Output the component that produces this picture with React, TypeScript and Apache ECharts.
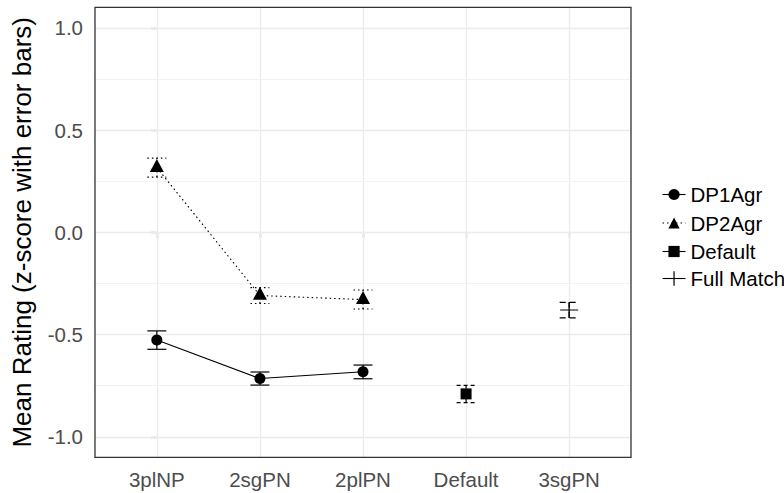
import { useEffect, useRef } from 'react';
import * as echarts from 'echarts';

const categories = ['3plNP', '2sgPN', '2plPN', 'Default', '3sgPN'];

const dp1Cats = ['3plNP', '2sgPN', '2plPN'];
const dp1Means = [-0.527, -0.715, -0.682];
const dp1Low = [-0.572, -0.747, -0.716];
const dp1High = [-0.482, -0.683, -0.649];

const dp2Cats = ['3plNP', '2sgPN', '2plPN'];
const dp2Means = [0.316, -0.309, -0.329];
const dp2Low = [0.27, -0.348, -0.375];
const dp2High = [0.363, -0.27, -0.282];

const defCats = ['Default'];
const defMeans = [-0.79];
const defLow = [-0.833];
const defHigh = [-0.748];

const fmCats = ['3sgPN'];
const fmMeans = [-0.38];
const fmLow = [-0.418];
const fmHigh = [-0.343];

const yTicks = [-1, -0.5, 0, 0.5, 1];
const yMinor = [-0.75, -0.25, 0.25, 0.75];

const FONT = '"Liberation Sans", Arial, sans-serif';
const G = { left: 95, top: 7.3, width: 536, height: 450 };

const idx = (c: string) => categories.indexOf(c);

const DOT = [1.5, 3];
const DASH = [4, 3];
const LONGDASH = [6, 4];

function errorSeries(name: string, cats: string[], lows: number[], highs: number[], dash: number[] | null) {
  return {
    type: 'custom',
    name,
    z: 3,
    silent: true,
    data: cats.map((c, i) => [idx(c), lows[i], highs[i]]),
    encode: { x: 0, y: [1, 2] },
    renderItem: (params: any, api: any) => {
      const x = api.value(0);
      const lo = api.value(1);
      const hi = api.value(2);
      const pLo = api.coord([x, lo]);
      const pHi = api.coord([x, hi]);
      const half = api.size([0.092, 0])[0];
      const style: any = { stroke: '#000', lineWidth: 1.2, fill: 'none' };
      if (dash) style.lineDash = dash;
      return {
        type: 'group',
        children: [
          { type: 'line', shape: { x1: pLo[0], y1: pLo[1], x2: pHi[0], y2: pHi[1] }, style },
          { type: 'line', shape: { x1: pLo[0] - half, y1: pLo[1], x2: pLo[0] + half, y2: pLo[1] }, style },
          { type: 'line', shape: { x1: pHi[0] - half, y1: pHi[1], x2: pHi[0] + half, y2: pHi[1] }, style },
        ],
      };
    },
  };
}

function legendFor(name: string, top: number, itemHeight: number, extra: any = {}) {
  return {
    data: [name],
    orient: 'vertical',
    left: 662,
    top,
    padding: 0,
    itemGap: 0,
    itemWidth: 23,
    itemHeight,
    selectedMode: false,
    textStyle: { fontSize: 20.5, color: '#000', fontFamily: FONT },
    ...extra,
  };
}

const gridLines = [
  ...categories.map((_, i) => ({ xAxis: i, lineStyle: { color: '#EBEBEB', width: 1.3, type: 'solid' } })),
  ...yTicks.map((v) => ({ yAxis: v, lineStyle: { color: '#EBEBEB', width: 1.3, type: 'solid' } })),
  ...yMinor.map((v) => ({ yAxis: v, lineStyle: { color: '#F0F0F0', width: 0.9, type: 'solid' } })),
];

export default function App() {
  const ref = useRef<HTMLDivElement>(null);
  useEffect(() => {
    const chart = echarts.init(ref.current!, null, { renderer: 'svg' });
    const option: any = {
      animation: false,
      backgroundColor: '#fff',
      grid: { left: G.left, top: G.top, width: G.width, height: G.height, containLabel: false },
      xAxis: {
        type: 'value',
        min: -0.6,
        max: 4.6,
        axisLine: { show: false },
        splitLine: { show: false },
        axisTick: { show: true, customValues: categories.map((_, i) => i), length: 6, lineStyle: { color: '#333', width: 1.2 } },
        axisLabel: {
          customValues: categories.map((_, i) => i),
          formatter: (v: number) => categories[Math.round(v)],
          fontSize: 20.5,
          color: '#4D4D4D',
          margin: 12,
          fontFamily: FONT,
        },
      },
      yAxis: {
        type: 'value',
        min: -1.1,
        max: 1.1,
        axisLine: { show: false },
        splitLine: { show: false },
        axisTick: { show: true, customValues: yTicks, length: 6, lineStyle: { color: '#333', width: 1.2 } },
        axisLabel: {
          customValues: yTicks,
          formatter: (v: number) => v.toFixed(1),
          fontSize: 20.5,
          color: '#4D4D4D',
          margin: 12,
          fontFamily: FONT,
        },
        name: 'Mean Rating (z-score with error bars)',
        nameLocation: 'middle',
        nameGap: 60,
        nameTextStyle: { fontSize: 26, color: '#000', fontFamily: FONT },
      },
      legend: [
        legendFor('DP1Agr', 184, 14, { itemStyle: { borderWidth: 0 }, lineStyle: { color: '#000', width: 1.1, type: 'solid' } }),
        legendFor('DP2Agr', 212.5, 14, { itemStyle: { borderWidth: 0 }, lineStyle: { color: '#000', width: 1.1, type: DOT } }),
        legendFor('Default', 241, 14, { itemStyle: { borderWidth: 0 }, lineStyle: { color: '#000', width: 1.1, type: 'solid' } }),
        legendFor('Full Match', 268, 18, { itemStyle: { borderWidth: 1.2, borderColor: '#000' }, lineStyle: { color: '#000', width: 1.1, type: 'solid' } }),
      ],
      graphic: [
        {
          type: 'rect',
          z: 100,
          silent: true,
          shape: { x: G.left, y: G.top, width: G.width, height: G.height },
          style: { fill: 'none', stroke: '#333', lineWidth: 1.3 },
        },
      ],
      series: [
        {
          type: 'line',
          name: 'gridlines',
          data: [],
          silent: true,
          markLine: {
            z: 1,
            silent: true,
            symbol: ['none', 'none'],
            label: { show: false },
            lineStyle: { type: 'solid' },
            data: gridLines,
          },
        },
        errorSeries('DP1Agr err', dp1Cats, dp1Low, dp1High, null),
        errorSeries('DP2Agr err', dp2Cats, dp2Low, dp2High, DOT),
        errorSeries('Default err', defCats, defLow, defHigh, DASH),
        errorSeries('Full Match err', fmCats, fmLow, fmHigh, LONGDASH),
        {
          type: 'line',
          name: 'DP1Agr',
          z: 4,
          silent: true,
          data: dp1Cats.map((c, i) => [idx(c), dp1Means[i]]),
          symbol: 'circle',
          symbolSize: 11,
          itemStyle: { color: '#000' },
          lineStyle: { color: '#000', width: 1.1, type: 'solid' },
        },
        {
          type: 'line',
          name: 'DP2Agr',
          z: 4,
          silent: true,
          data: dp2Cats.map((c, i) => [idx(c), dp2Means[i]]),
          symbol: 'triangle',
          symbolSize: [14, 13],
          symbolOffset: [0, -2.2],
          itemStyle: { color: '#000' },
          lineStyle: { color: '#000', width: 1.1, type: DOT },
        },
        {
          type: 'line',
          name: 'Default',
          z: 4,
          silent: true,
          data: defCats.map((c, i) => [idx(c), defMeans[i]]),
          symbol: 'rect',
          symbolSize: 11,
          itemStyle: { color: '#000' },
          lineStyle: { color: '#000', width: 1.1, type: 'solid' },
        },
        {
          type: 'line',
          name: 'Full Match',
          z: 4,
          silent: true,
          data: fmCats.map((c, i) => [idx(c), fmMeans[i]]),
          symbol: 'path://M0,8L16,8M8,0L8,16',
          symbolSize: [18, 16],
          itemStyle: { color: 'rgba(0,0,0,0)', borderColor: '#000', borderWidth: 1.2 },
          lineStyle: { color: '#000', width: 1.1, type: 'solid' },
        },
      ],
    };
    chart.setOption(option);
    return () => chart.dispose();
  }, []);
  return <div ref={ref} style={{ position: 'fixed', left: 0, top: 0, width: 784, height: 493 }} />;
}
